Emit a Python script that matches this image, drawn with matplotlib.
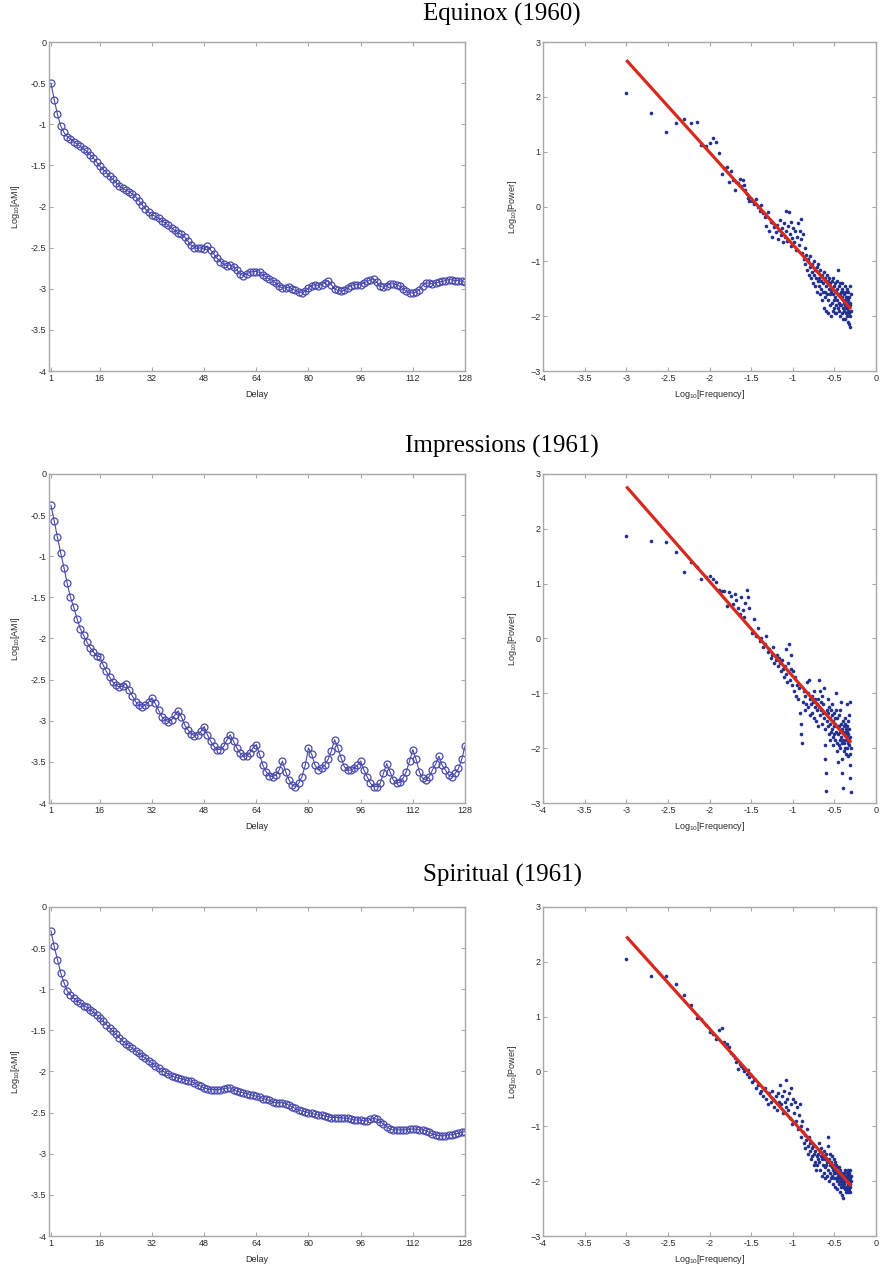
import numpy as np
import matplotlib
matplotlib.use("Agg")
import matplotlib.pyplot as plt

plt.rcParams["font.family"] = ["Liberation Sans", "DejaVu Sans"]
plt.rcParams["mathtext.fontset"] = "custom"
plt.rcParams["mathtext.rm"] = "Liberation Sans"

titles = ["Equinox (1960)", "Impressions (1961)", "Spiritual (1961)"]

delay = list(range(1, 129))

ami_equinox = [
    -0.50, -0.70, -0.88, -1.02, -1.10, -1.15, -1.18, -1.21, -1.24, -1.27,
    -1.30, -1.33, -1.37, -1.41, -1.46, -1.51, -1.55, -1.59, -1.63, -1.67,
    -1.71, -1.75, -1.78, -1.80, -1.82, -1.85, -1.88, -1.93, -1.98, -2.03,
    -2.07, -2.10, -2.12, -2.14, -2.17, -2.20, -2.23, -2.26, -2.29, -2.32,
    -2.34, -2.37, -2.42, -2.47, -2.50, -2.51, -2.50, -2.52, -2.48, -2.53,
    -2.58, -2.63, -2.67, -2.70, -2.72, -2.71, -2.73, -2.77, -2.82, -2.84,
    -2.82, -2.80, -2.79, -2.79, -2.80, -2.83, -2.86, -2.88, -2.90, -2.93,
    -2.97, -2.99, -2.99, -2.98, -3.00, -3.02, -3.04, -3.05, -3.03, -2.99,
    -2.96, -2.95, -2.96, -2.95, -2.93, -2.90, -2.95, -3.00, -3.02, -3.03,
    -3.02, -2.99, -2.96, -2.95, -2.95, -2.95, -2.93, -2.91, -2.89, -2.88,
    -2.92, -2.97, -2.98, -2.96, -2.94, -2.94, -2.95, -2.97, -3.00, -3.03,
    -3.05, -3.05, -3.04, -3.01, -2.96, -2.93, -2.93, -2.94, -2.93, -2.92,
    -2.91, -2.90, -2.89, -2.89, -2.90, -2.90, -2.91, -2.92,
]

ami_impressions = [
    -0.38, -0.57, -0.77, -0.96, -1.14, -1.33, -1.50, -1.62, -1.76, -1.88,
    -1.96, -2.04, -2.11, -2.16, -2.21, -2.22, -2.32, -2.40, -2.47, -2.53,
    -2.57, -2.59, -2.58, -2.55, -2.63, -2.70, -2.77, -2.81, -2.83, -2.81,
    -2.77, -2.72, -2.79, -2.87, -2.95, -2.99, -3.01, -2.99, -2.93, -2.88,
    -2.95, -3.05, -3.11, -3.16, -3.18, -3.17, -3.13, -3.07, -3.17, -3.25,
    -3.31, -3.35, -3.35, -3.31, -3.23, -3.17, -3.25, -3.33, -3.39, -3.43,
    -3.43, -3.39, -3.33, -3.29, -3.41, -3.54, -3.62, -3.67, -3.68, -3.66,
    -3.60, -3.49, -3.62, -3.72, -3.78, -3.80, -3.76, -3.68, -3.54, -3.33,
    -3.41, -3.54, -3.60, -3.58, -3.54, -3.47, -3.37, -3.23, -3.33, -3.45,
    -3.56, -3.60, -3.60, -3.58, -3.54, -3.49, -3.60, -3.68, -3.76, -3.80,
    -3.80, -3.76, -3.64, -3.52, -3.62, -3.72, -3.76, -3.75, -3.70, -3.62,
    -3.49, -3.35, -3.47, -3.62, -3.70, -3.72, -3.68, -3.60, -3.53, -3.43,
    -3.54, -3.60, -3.66, -3.68, -3.64, -3.58, -3.47, -3.31,
]

ami_spiritual = [
    -0.29, -0.48, -0.64, -0.80, -0.92, -1.02, -1.07, -1.11, -1.14, -1.17,
    -1.20, -1.22, -1.25, -1.28, -1.31, -1.35, -1.39, -1.43, -1.47, -1.51,
    -1.55, -1.59, -1.63, -1.66, -1.69, -1.72, -1.75, -1.78, -1.81, -1.84,
    -1.87, -1.90, -1.93, -1.96, -1.99, -2.01, -2.03, -2.05, -2.07, -2.08,
    -2.09, -2.10, -2.11, -2.12, -2.14, -2.16, -2.18, -2.20, -2.21, -2.22,
    -2.22, -2.22, -2.22, -2.21, -2.20, -2.20, -2.22, -2.24, -2.25, -2.26,
    -2.27, -2.28, -2.29, -2.30, -2.31, -2.33, -2.34, -2.35, -2.37, -2.38,
    -2.38, -2.38, -2.39, -2.41, -2.43, -2.45, -2.47, -2.48, -2.49, -2.50,
    -2.51, -2.52, -2.53, -2.53, -2.54, -2.55, -2.56, -2.56, -2.56, -2.56,
    -2.57, -2.57, -2.58, -2.59, -2.59, -2.59, -2.60, -2.60, -2.58, -2.57,
    -2.58, -2.61, -2.64, -2.67, -2.70, -2.71, -2.71, -2.71, -2.71, -2.71,
    -2.70, -2.70, -2.70, -2.71, -2.71, -2.72, -2.74, -2.76, -2.77, -2.78,
    -2.78, -2.78, -2.77, -2.77, -2.76, -2.75, -2.74, -2.73,
]

# frequency bin index (out of 1000), a subset of the spectrum bins
freq_bin = (list(range(1, 31)) + list(range(32, 101, 2))
            + list(range(103, 200, 3)) + list(range(202, 500, 3)))

power_equinox = [
    2.07, 1.70, 1.36, 1.52, 1.59, 1.53, 1.54, 1.12, 1.10, 1.15,
    1.25, 1.17, 0.97, 0.60, 0.70, 0.72, 0.45, 0.64, 0.48, 0.31,
    0.45, 0.42, 0.50, 0.38, 0.48, 0.40, 0.30, 0.22, 0.15, 0.10,
    # 32..100
    0.10, 0.05, 0.13, 0.00, -0.08, 0.02, -0.12, -0.20, -0.35, -0.10,
    -0.45, -0.28, -0.55, -0.30, -0.38, -0.47, -0.33, -0.60, -0.42, -0.25,
    -0.52, -0.40, -0.65, -0.30, -0.55, -0.45, -0.08, -0.62, -0.35, -0.10,
    -0.50, -0.72, -0.28, -0.58, -0.40,
    # 103..199
    -0.65, -0.45, -0.80, -0.55, -0.30, -0.70, -0.45, -0.22, -0.60, -0.85,
    -0.50, -0.95, -0.75, -1.05, -0.88, -1.15, -0.95, -1.00, -1.25, -0.90,
    -1.10, -1.30, -1.05, -1.20, -1.40, -1.00, -1.25, -1.45, -1.15, -1.30,
    -1.55, -1.10, -1.35,
    # 202..499
    -1.05, -1.45, -1.30, -1.60, -1.15, -1.50, -1.35, -1.70, -1.25, -1.55,
    -1.40, -1.85, -1.20, -1.55, -1.65, -1.30, -1.90, -1.45, -1.60, -1.25,
    -1.70, -1.35, -1.95, -1.50, -1.30, -1.80, -1.60, -1.40, -2.00, -1.55,
    -1.35, -1.75, -1.50, -1.90, -1.60, -1.30, -1.85, -1.70, -1.45, -1.95,
    -1.65, -1.40, -1.80, -1.55, -1.95, -1.35, -1.70, -1.50, -1.85, -1.60,
    -1.15, -1.75, -1.45, -1.90, -1.60, -1.80, -1.40, -2.00, -1.65, -1.55,
    -1.80, -1.50, -1.95, -1.65, -1.40, -1.85, -1.70, -2.05, -1.55, -1.75,
    -1.60, -1.90, -1.45, -1.80, -2.05, -1.70, -1.55, -1.95, -1.85, -1.65,
    -1.75, -2.00, -1.50, -1.85, -1.65, -2.10, -1.70, -1.90, -1.55, -1.80,
    -1.95, -1.65, -2.15, -1.80, -1.45, -2.00, -1.75, -2.20, -1.60, -1.90,
]

power_impressions = [
    1.86, 1.77, 1.76, 1.58, 1.22, 1.40, 1.30, 1.09, 1.12, 1.14,
    1.09, 1.03, 0.89, 0.87, 0.86, 0.59, 0.85, 0.78, 0.62, 0.82,
    0.70, 0.55, 0.45, 0.75, 0.52, 0.40, 0.65, 0.88, 0.75, 0.55,
    # 32..100
    0.10, 0.35, 0.05, 0.20, -0.05, 0.00, -0.15, -0.10, 0.05, -0.25,
    -0.20, -0.35, -0.30, -0.15, -0.45, -0.40, -0.30, -0.50, -0.35, -0.45,
    -0.60, -0.40, -0.55, -0.70, -0.50, -0.20, -0.65, -0.80, -0.45, -0.10,
    -0.75, -0.55, -0.30, -0.85, -0.60,
    # 103..199
    -0.95, -0.70, -1.05, -0.85, -1.10, -0.90, -1.35, -1.55, -1.75, -1.90,
    -1.15, -0.95, -1.30, -1.05, -1.20, -0.80, -1.00, -1.25, -0.75, -1.10,
    -1.40, -1.20, -1.05, -1.35, -1.15, -0.95, -1.45, -1.25, -1.10, -1.50,
    -1.30, -1.20, -1.60,
    # 202..499
    -1.10, -0.75, -1.25, -1.40, -0.95, -1.30, -1.15, -1.55, -1.05, -1.35,
    -1.20, -0.90, -1.45, -1.65, -1.95, -2.20, -2.45, -2.78, -1.30, -1.50,
    -1.10, -1.60, -1.35, -1.75, -1.25, -1.45, -1.85, -1.55, -1.30, -1.70,
    -1.40, -1.65, -1.20, -1.80, -1.50, -1.95, -1.35, -1.60, -1.75, -1.45,
    -1.55, -1.85, -1.30, -1.70, -1.00, -1.45, -1.90, -2.05, -2.25, -1.60,
    -1.75, -1.40, -1.95, -1.60, -1.85, -1.30, -1.70, -2.00, -1.55, -1.80,
    -1.15, -1.65, -1.90, -2.20, -2.45, -2.72, -1.50, -1.85, -1.70, -2.05,
    -1.60, -1.90, -1.45, -1.75, -2.00, -1.55, -1.85, -1.70, -2.10, -1.65,
    -1.20, -1.80, -1.60, -2.00, -1.70, -1.90, -1.50, -2.15, -1.75, -1.85,
    -1.65, -1.95, -1.40, -2.10, -1.15, -1.80, -2.30, -2.55, -2.80, -2.00,
]

power_spiritual = [
    2.06, 1.74, 1.74, 1.60, 1.40, 1.22, 0.97, 0.95, 0.85, 0.72,
    0.68, 0.60, 0.75, 0.80, 0.54, 0.50, 0.44, 0.34, 0.30, 0.25,
    0.18, 0.04, 0.14, 0.10, 0.06, 0.00, 0.05, -0.05, 0.02, -0.10,
    # 32..100
    -0.20, -0.15, -0.30, -0.25, -0.40, -0.35, -0.45, -0.30, -0.50, -0.60,
    -0.40, -0.55, -0.35, -0.50, -0.65, -0.45, -0.70, -0.40, -0.55, -0.25,
    -0.60, -0.45, -0.75, -0.35, -0.55, -0.65, -0.15, -0.50, -0.70, -0.40,
    -0.85, -0.30, -0.60, -0.95, -0.50,
    # 103..199
    -0.75, -0.55, -0.90, -0.65, -1.05, -0.80, -0.60, -1.00, -1.20, -0.90,
    -1.10, -1.30, -1.15, -1.40, -1.25, -1.05, -1.35, -1.50, -1.20, -1.45,
    -1.30, -1.60, -1.40, -1.55, -1.35, -1.70, -1.50, -1.65, -1.45, -1.80,
    -1.55, -1.70, -1.60,
    # 202..499
    -1.50, -1.30, -1.65, -1.45, -1.80, -1.55, -1.40, -1.90, -1.60, -1.70,
    -1.55, -1.85, -1.45, -1.75, -1.95, -1.60, -1.70, -1.50, -1.90, -1.65,
    -1.20, -1.35, -1.80, -1.60, -2.00, -1.70, -1.50, -1.85, -1.65, -1.95,
    -1.75, -1.55, -1.90, -1.70, -2.05, -1.80, -1.60, -1.95, -1.85, -1.65,
    -1.85, -2.10, -1.70, -1.95, -1.80, -2.00, -1.75, -2.15, -1.90, -1.85,
    -1.95, -1.75, -2.05, -1.85, -2.20, -1.90, -2.00, -1.80, -2.10, -1.95,
    -2.00, -2.25, -1.85, -2.05, -1.95, -2.30, -1.90, -2.10, -2.00, -1.85,
    -2.05, -1.90, -2.15, -1.95, -2.00, -1.80, -2.10, -1.95, -2.20, -2.00,
    -1.90, -2.10, -1.85, -2.00, -2.15, -1.80, -2.05, -1.95, -2.20, -1.90,
    -2.00, -1.85, -2.15, -1.95, -2.10, -1.80, -2.05, -2.20, -1.90, -2.00,
]

# end points of the fitted line, per album
fit_x = [-3.0, -0.3]
fit_y = [[2.67, -1.87], [2.77, -1.90], [2.46, -2.08]]

ami_all = [ami_equinox, ami_impressions, ami_spiritual]
power_all = [power_equinox, power_impressions, power_spiritual]

log_freq = np.log10(np.array(freq_bin) / 1000.0)

fig = plt.figure(figsize=(8.84, 12.69), dpi=100)

row_bottoms = [0.7076, 0.3672, 0.0260]
row_h = 0.2593
title_y = [0.989, 0.648, 0.310]

spine_col = "#a8a8a8"
tick_col = "#2a2a2a"
fs = 6.5


def style_axes(ax):
    for s in ax.spines.values():
        s.set_color(spine_col)
        s.set_linewidth(1.0)
    ax.tick_params(direction="in", top=True, right=True, length=3,
                   width=0.8, color=spine_col, labelsize=fs,
                   labelcolor=tick_col, pad=2)


for i in range(3):
    fig.text(0.568, title_y[i], titles[i], ha="center", va="center",
             fontsize=18, family="Liberation Serif")

    # left: AMI against delay
    ax = fig.add_axes([0.0554, row_bottoms[i], 0.4706, row_h])
    ax.plot(delay, ami_all[i], color="#4848a8", lw=0.8, marker="o",
            markersize=5, markerfacecolor="none", markeredgecolor="#4a4aae",
            markeredgewidth=0.9)
    ax.set_xlim(0.4, 128)
    ax.set_ylim(-4, 0)
    ax.set_xticks([1, 16, 32, 48, 64, 80, 96, 112, 128])
    ax.set_yticks(np.arange(-4, 0.01, 0.5))
    ax.set_yticklabels(["-4", "-3.5", "-3", "-2.5", "-2", "-1.5", "-1",
                        "-0.5", "0"])
    ax.set_xlabel("Delay", fontsize=fs, color=tick_col, labelpad=5)
    ax.set_ylabel("Log$_{10}$[AMI]", fontsize=fs, color=tick_col,
                  labelpad=6)
    style_axes(ax)

    # right: power spectrum with fitted line
    ax2 = fig.add_axes([0.6143, row_bottoms[i], 0.3767, row_h])
    ax2.plot(log_freq, power_all[i], linestyle="none", marker="o",
             markersize=2.6, color="#22308e", markeredgewidth=0)
    ax2.plot(fit_x, fit_y[i], color="#d62a1e", lw=2.3,
             solid_capstyle="butt")
    ax2.set_xlim(-4, 0)
    ax2.set_ylim(-3, 3)
    ax2.set_xticks(np.arange(-4, 0.01, 0.5))
    ax2.set_xticklabels(["-4", "-3.5", "-3", "-2.5", "-2", "-1.5", "-1",
                         "-0.5", "0"])
    ax2.set_yticks(range(-3, 4))
    ax2.set_xlabel("Log$_{10}$[Frequency]", fontsize=fs, color=tick_col,
                   labelpad=4)
    ax2.set_ylabel("Log$_{10}$[Power]", fontsize=fs, color=tick_col,
                   labelpad=8)
    style_axes(ax2)

fig.savefig("out.png", dpi=100)
